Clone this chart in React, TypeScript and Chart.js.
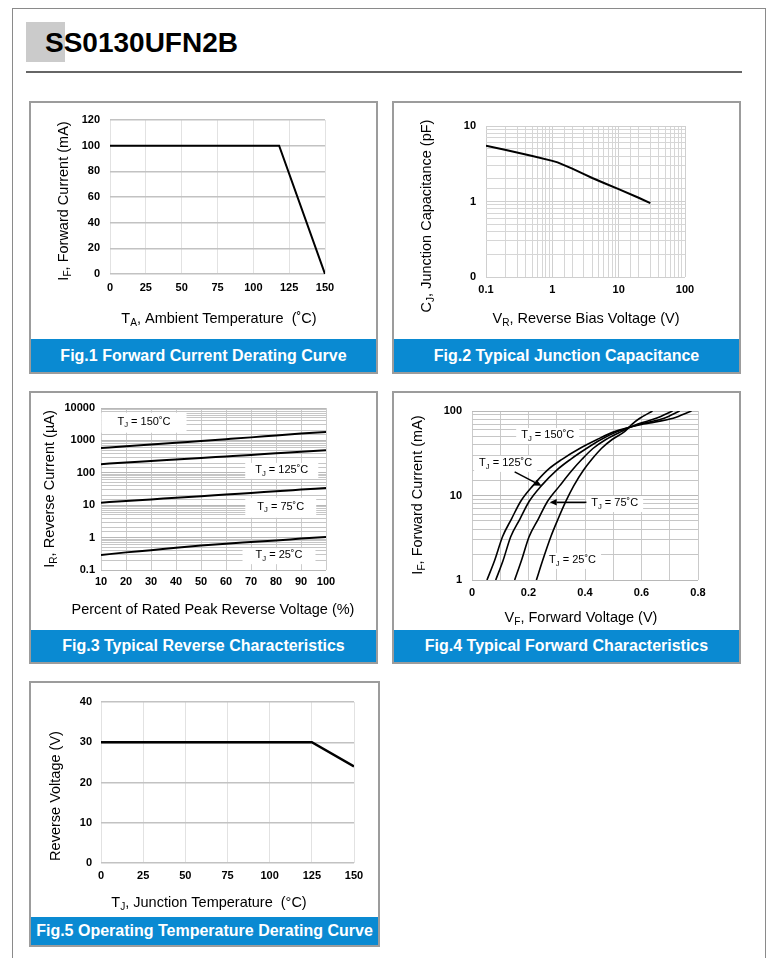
import React, { useEffect, useRef } from "react";
import { Chart, registerables } from "chart.js";

Chart.register(...registerables);

const FONT = '"Liberation Sans", Arial, Helvetica, sans-serif';

// ---------------- Fig.1 Forward Current Derating Curve ----------------
const fig1Temperature = [0, 118, 150];
const fig1Current = [100, 100, 0];
const fig1XTicks = [0, 25, 50, 75, 100, 125, 150];
const fig1YTicks = [0, 20, 40, 60, 80, 100, 120];

// ---------------- Fig.2 Typical Junction Capacitance ----------------
const fig2Voltage = [0.1, 0.2, 0.5, 1, 1.2, 2, 3, 4, 6, 10, 20, 30];
const fig2Capacitance = [5.5, 4.8, 4.0, 3.45, 3.3, 2.72, 2.3, 2.05, 1.76, 1.46, 1.12, 0.95];
const fig2XTickValues = [0.1, 1, 10, 100];
const fig2XTickLabels = ["0.1", "1", "10", "100"];
const fig2YTickValues = [0.1, 1, 10];
const fig2YTickLabels = ["0", "1", "10"];

// ---------------- Fig.3 Typical Reverse Characteristics ----------------
const fig3Percent = [10, 20, 30, 40, 50, 60, 70, 80, 90, 100];
const fig3Ir150 = [580, 660, 750, 850, 960, 1090, 1240, 1420, 1620, 1830];
const fig3Ir125 = [185, 207, 230, 257, 287, 320, 357, 400, 447, 495];
const fig3Ir75 = [12, 13.5, 15.1, 17, 19, 21.4, 24, 27, 30.3, 34];
const fig3Ir25 = [0.29, 0.35, 0.41, 0.49, 0.57, 0.65, 0.73, 0.82, 0.93, 1.05];
const fig3XTicks = [10, 20, 30, 40, 50, 60, 70, 80, 90, 100];
const fig3YTickValues = [0.1, 1, 10, 100, 1000, 10000];
const fig3YTickLabels = ["0.1", "1", "10", "100", "1000", "10000"];
const fig3NoteTemps = ["150", "125", "75", "25"];
const fig3NoteX = [27.2, 82.3, 81.9, 81.2];
const fig3NoteY = [3770, 123, 8.97, 0.287];

// ---------------- Fig.4 Typical Forward Characteristics ----------------
const fig4Current = [1, 1.7, 3.25, 5.3, 8.5, 13, 20, 27, 36, 46, 57, 70, 82, 100];
const fig4Vf150 = [0.053, 0.08, 0.108, 0.14, 0.172, 0.215, 0.267, 0.32, 0.381, 0.443, 0.505, 0.607, 0.712, 0.777];
const fig4Vf125 = [0.084, 0.11, 0.137, 0.17, 0.202, 0.245, 0.3, 0.35, 0.405, 0.457, 0.515, 0.597, 0.68, 0.735];
const fig4Vf75 = [0.151, 0.175, 0.202, 0.235, 0.267, 0.31, 0.355, 0.39, 0.428, 0.474, 0.528, 0.587, 0.652, 0.71];
const fig4Vf25 = [0.228, 0.25, 0.279, 0.305, 0.332, 0.36, 0.395, 0.425, 0.458, 0.496, 0.54, 0.567, 0.594, 0.639];
const fig4XGrid = [0, 0.1, 0.2, 0.3, 0.4, 0.5, 0.6, 0.7, 0.8];
const fig4XTickValues = [0, 0.2, 0.4, 0.6, 0.8];
const fig4XTickLabels = ["0", "0.2", "0.4", "0.6", "0.8"];
const fig4YTickValues = [1, 10, 100];
const fig4YTickLabels = ["1", "10", "100"];
const fig4NoteTemps = ["150", "125", "75", "25"];
const fig4NoteX = [0.268, 0.119, 0.505, 0.356];
const fig4NoteY = [52, 24.3, 8.15, 1.73];
const fig4ArrowFromX = [0.151, 0.405];
const fig4ArrowFromY = [19, 8.31];
const fig4ArrowToX = [0.246, 0.275];
const fig4ArrowToY = [13, 8.31];

// ---------------- Fig.5 Operating Temperature Derating Curve ----------------
const fig5Temperature = [0, 125, 150];
const fig5Voltage = [30, 30, 24];
const fig5XTicks = [0, 25, 50, 75, 100, 125, 150];
const fig5YTicks = [0, 10, 20, 30, 40];

// ---------------------------------------------------------------------------
type Part = { t: string; sub?: boolean };

function measureRich(ctx: CanvasRenderingContext2D, parts: Part[], size: number) {
  let w = 0;
  for (const p of parts) {
    ctx.font = `${p.sub ? size * 0.7 : size}px ${FONT}`;
    w += ctx.measureText(p.t).width;
  }
  return w;
}

function drawRich(ctx: CanvasRenderingContext2D, parts: Part[], size: number, cx: number, cy: number) {
  const w = measureRich(ctx, parts, size);
  let x = cx - w / 2;
  ctx.textAlign = "left";
  ctx.textBaseline = "middle";
  for (const p of parts) {
    ctx.font = `${p.sub ? size * 0.7 : size}px ${FONT}`;
    ctx.fillText(p.t, x, p.sub ? cy + size * 0.32 : cy);
    x += ctx.measureText(p.t).width;
  }
}

const tjParts = (temp: string): Part[] => [{ t: "T" }, { t: "J", sub: true }, { t: ` = ${temp}˚C` }];

type AxisSpec = {
  type: "linear" | "logarithmic";
  min: number;
  max: number;
  grid?: number[];
  labelValues: number[];
  labels: string[];
  minorColor: string;
  majorColor: string;
  lineWidth: number;
  pad: number;
};

type Note = { x: number; y: number; parts: Part[]; padX: number; padY: number };
type Arrow = { x1: number; y1: number; x2: number; y2: number };

type ChartSpec = {
  left: number;
  top: number;
  w: number;
  h: number;
  area: { left: number; top: number; right: number; bottom: number };
  x: AxisSpec;
  y: AxisSpec;
  series: { xs: number[]; ys: number[] }[];
  lineWidth: number;
  smooth: boolean;
  xTitle: Part[];
  xTitlePos: [number, number];
  yTitle: Part[];
  yTitlePos: [number, number];
  notes?: Note[];
  arrows?: Arrow[];
};

const near = (a: number, b: number) => Math.abs(a - b) <= 1e-6 * Math.max(Math.abs(a), 1e-9) + 1e-12;
const isPow10 = (v: number) => near(Math.pow(10, Math.round(Math.log10(v))), v);

function buildScale(spec: AxisSpec, size: number, isX: boolean) {
  return {
    type: spec.type,
    min: spec.min,
    max: spec.max,
    border: { display: false },
    grid: {
      drawTicks: false,
      lineWidth: spec.lineWidth,
      color: (c: any) => {
        const v = c.tick ? c.tick.value : 0;
        if (spec.type === "logarithmic") return isPow10(v) ? spec.majorColor : spec.minorColor;
        return spec.majorColor;
      },
    },
    ticks: {
      autoSkip: false,
      maxRotation: 0,
      minRotation: 0,
      padding: spec.pad,
      color: "#000",
      font: { family: FONT, size: 11, weight: "bold" },
      callback: (v: number) => {
        const i = spec.labelValues.findIndex((t) => near(t, Number(v)));
        return i >= 0 ? spec.labels[i] : "";
      },
    },
    afterBuildTicks: spec.grid
      ? (scale: any) => {
          scale.ticks = spec.grid!.map((v) => ({ value: v }));
        }
      : undefined,
    afterFit: (scale: any) => {
      if (isX) scale.height = size;
      else scale.width = size;
    },
  };
}

function makeConfig(spec: ChartSpec): any {
  const titles = {
    id: "richTitles",
    afterDraw(chart: any) {
      const ctx: CanvasRenderingContext2D = chart.ctx;
      ctx.save();
      ctx.fillStyle = "#000";
      drawRich(ctx, spec.xTitle, 14.5, spec.xTitlePos[0], spec.xTitlePos[1]);
      ctx.translate(spec.yTitlePos[0], spec.yTitlePos[1]);
      ctx.rotate(-Math.PI / 2);
      drawRich(ctx, spec.yTitle, 14.5, 0, 0);
      ctx.restore();
    },
  };
  const notes = {
    id: "notes",
    beforeDatasetsDraw(chart: any) {
      if (!spec.notes) return;
      const ctx: CanvasRenderingContext2D = chart.ctx;
      const xs = chart.scales.x;
      const ys = chart.scales.y;
      ctx.save();
      for (const n of spec.notes) {
        const px = xs.getPixelForValue(n.x);
        const py = ys.getPixelForValue(n.y);
        const w = measureRich(ctx, n.parts, 11);
        const bw = w + 2 * n.padX;
        const bh = 12 + 2 * n.padY;
        ctx.fillStyle = "#fff";
        ctx.fillRect(px - bw / 2, py - bh / 2 + 1, bw, bh);
        ctx.fillStyle = "#000";
        drawRich(ctx, n.parts, 11, px, py);
      }
      ctx.restore();
    },
    afterDatasetsDraw(chart: any) {
      if (!spec.arrows) return;
      const ctx: CanvasRenderingContext2D = chart.ctx;
      const xs = chart.scales.x;
      const ys = chart.scales.y;
      ctx.save();
      ctx.strokeStyle = "#000";
      ctx.fillStyle = "#000";
      ctx.lineWidth = 1.5;
      for (const a of spec.arrows) {
        const x1 = xs.getPixelForValue(a.x1);
        const y1 = ys.getPixelForValue(a.y1);
        const x2 = xs.getPixelForValue(a.x2);
        const y2 = ys.getPixelForValue(a.y2);
        const ang = Math.atan2(y2 - y1, x2 - x1);
        const hl = 7;
        const hw = 3.2;
        const bx = x2 - hl * Math.cos(ang);
        const by = y2 - hl * Math.sin(ang);
        ctx.beginPath();
        ctx.moveTo(x1, y1);
        ctx.lineTo(bx, by);
        ctx.stroke();
        ctx.beginPath();
        ctx.moveTo(x2, y2);
        ctx.lineTo(bx + hw * Math.sin(ang), by - hw * Math.cos(ang));
        ctx.lineTo(bx - hw * Math.sin(ang), by + hw * Math.cos(ang));
        ctx.closePath();
        ctx.fill();
      }
      ctx.restore();
    },
  };
  return {
    type: "line",
    data: {
      datasets: spec.series.map((s) => ({
        data: s.xs.map((x, i) => ({ x, y: s.ys[i] })),
        borderColor: "#000",
        borderWidth: spec.lineWidth,
        pointRadius: 0,
        fill: false,
        tension: spec.smooth ? 0.4 : 0,
        cubicInterpolationMode: spec.smooth ? "monotone" : "default",
      })),
    },
    options: {
      animation: false,
      responsive: false,
      events: [],
      layout: {
        padding: {
          left: 0,
          top: spec.area.top,
          right: spec.w - spec.area.right,
          bottom: 0,
        },
      },
      plugins: { legend: { display: false }, tooltip: { enabled: false }, title: { display: false } },
      scales: {
        x: buildScale(spec.x, spec.h - spec.area.bottom, true),
        y: buildScale(spec.y, spec.area.left, false),
      },
    },
    plugins: [titles, notes],
  };
}

function ChartCanvas({ spec }: { spec: ChartSpec }) {
  const ref = useRef<HTMLCanvasElement>(null);
  useEffect(() => {
    const chart = new Chart(ref.current as HTMLCanvasElement, makeConfig(spec));
    return () => chart.destroy();
  }, []);
  return (
    <canvas
      ref={ref}
      width={spec.w}
      height={spec.h}
      style={{ position: "absolute", left: spec.left, top: spec.top, width: spec.w, height: spec.h }}
    />
  );
}

function Panel({ left, top, width, height, bandTop, bandHeight, caption }: any) {
  return (
    <div
      style={{
        position: "absolute",
        left,
        top,
        width,
        height,
        boxSizing: "border-box",
        border: "2px solid #9c9c9c",
        background: "#fff",
      }}
    >
      <div
        style={{
          position: "absolute",
          left: 0,
          right: 0,
          top: bandTop,
          height: bandHeight,
          background: "#0a8ad2",
          color: "#fff",
          font: `bold 16px ${FONT}`,
          display: "flex",
          alignItems: "center",
          justifyContent: "center",
          whiteSpace: "nowrap",
        }}
      >
        {caption}
      </div>
    </div>
  );
}

const linGrid = (vals: number[], minor: string, major: string, lw: number, pad: number): AxisSpec => ({
  type: "linear",
  min: vals[0],
  max: vals[vals.length - 1],
  grid: vals,
  labelValues: vals,
  labels: vals.map(String),
  minorColor: minor,
  majorColor: major,
  lineWidth: lw,
  pad,
});

const fig1Spec: ChartSpec = {
  left: 31,
  top: 103,
  w: 345,
  h: 236,
  area: { left: 79, top: 17, right: 294, bottom: 171 },
  x: linGrid(fig1XTicks, "#e2e2e2", "#e2e2e2", 1, 7),
  y: linGrid(fig1YTicks, "#c2c2c2", "#c2c2c2", 1.5, 10),
  series: [{ xs: fig1Temperature, ys: fig1Current }],
  lineWidth: 2,
  smooth: false,
  xTitle: [{ t: "T" }, { t: "A", sub: true }, { t: ", Ambient Temperature  (˚C)" }],
  xTitlePos: [188, 216],
  yTitle: [{ t: "I" }, { t: "F", sub: true }, { t: ", Forward Current (mA)" }],
  yTitlePos: [33, 98],
};

const fig2Spec: ChartSpec = {
  left: 394,
  top: 103,
  w: 345,
  h: 236,
  area: { left: 92, top: 23, right: 291, bottom: 174 },
  x: {
    type: "logarithmic",
    min: 0.1,
    max: 100,
    labelValues: fig2XTickValues,
    labels: fig2XTickLabels,
    minorColor: "#d6d6d6",
    majorColor: "#cfcfcf",
    lineWidth: 1,
    pad: 6,
  },
  y: {
    type: "logarithmic",
    min: 0.1,
    max: 10,
    labelValues: fig2YTickValues,
    labels: fig2YTickLabels,
    minorColor: "#d6d6d6",
    majorColor: "#cfcfcf",
    lineWidth: 1,
    pad: 10,
  },
  series: [{ xs: fig2Voltage, ys: fig2Capacitance }],
  lineWidth: 2,
  smooth: false,
  xTitle: [{ t: "V" }, { t: "R", sub: true }, { t: ", Reverse Bias Voltage (V)" }],
  xTitlePos: [192, 216],
  yTitle: [{ t: "C" }, { t: "J", sub: true }, { t: ", Junction Capacitance (pF)" }],
  yTitlePos: [33, 113],
};

const fig3PadX = [16, 10, 12, 13];
const fig3PadY = [4, 2, 4, 2];
const fig3Spec: ChartSpec = {
  left: 31,
  top: 393,
  w: 345,
  h: 237,
  area: { left: 70, top: 15, right: 295, bottom: 177 },
  x: linGrid(fig3XTicks, "#cccccc", "#cccccc", 1, 5),
  y: {
    type: "logarithmic",
    min: 0.1,
    max: 10000,
    labelValues: fig3YTickValues,
    labels: fig3YTickLabels,
    minorColor: "#c6c6c6",
    majorColor: "#b8b8b8",
    lineWidth: 1,
    pad: 6,
  },
  series: [
    { xs: fig3Percent, ys: fig3Ir150 },
    { xs: fig3Percent, ys: fig3Ir125 },
    { xs: fig3Percent, ys: fig3Ir75 },
    { xs: fig3Percent, ys: fig3Ir25 },
  ],
  lineWidth: 2,
  smooth: true,
  xTitle: [{ t: "Percent of Rated Peak Reverse Voltage (%)" }],
  xTitlePos: [182, 217],
  yTitle: [{ t: "I" }, { t: "R", sub: true }, { t: ", Reverse Current (µA)" }],
  yTitlePos: [19, 96],
  notes: fig3NoteTemps.map((t, i) => ({
    x: fig3NoteX[i],
    y: fig3NoteY[i],
    parts: tjParts(t),
    padX: fig3PadX[i],
    padY: fig3PadY[i],
  })),
};

const fig4Spec: ChartSpec = {
  left: 394,
  top: 393,
  w: 345,
  h: 237,
  area: { left: 78, top: 18, right: 304, bottom: 187 },
  x: {
    type: "linear",
    min: 0,
    max: 0.8,
    grid: fig4XGrid,
    labelValues: fig4XTickValues,
    labels: fig4XTickLabels,
    minorColor: "#cacaca",
    majorColor: "#cacaca",
    lineWidth: 1,
    pad: 6,
  },
  y: {
    type: "logarithmic",
    min: 1,
    max: 100,
    labelValues: fig4YTickValues,
    labels: fig4YTickLabels,
    minorColor: "#c6c6c6",
    majorColor: "#b8b8b8",
    lineWidth: 1,
    pad: 10,
  },
  series: [
    { xs: fig4Vf150, ys: fig4Current },
    { xs: fig4Vf125, ys: fig4Current },
    { xs: fig4Vf75, ys: fig4Current },
    { xs: fig4Vf25, ys: fig4Current },
  ],
  lineWidth: 1.6,
  smooth: true,
  xTitle: [{ t: "V" }, { t: "F", sub: true }, { t: ", Forward Voltage (V)" }],
  xTitlePos: [187, 225],
  yTitle: [{ t: "I" }, { t: "F", sub: true }, { t: ", Forward Current (mA)" }],
  yTitlePos: [24, 102],
  notes: fig4NoteTemps.map((t, i) => ({ x: fig4NoteX[i], y: fig4NoteY[i], parts: tjParts(t), padX: 5, padY: 2 })),
  arrows: fig4ArrowFromX.map((x1, i) => ({ x1, y1: fig4ArrowFromY[i], x2: fig4ArrowToX[i], y2: fig4ArrowToY[i] })),
};

const fig5Spec: ChartSpec = {
  left: 31,
  top: 683,
  w: 347,
  h: 234,
  area: { left: 70, top: 19, right: 323, bottom: 180 },
  x: linGrid(fig5XTicks, "#e2e2e2", "#e2e2e2", 1, 6),
  y: linGrid(fig5YTicks, "#c2c2c2", "#c2c2c2", 1.5, 9),
  series: [{ xs: fig5Temperature, ys: fig5Voltage }],
  lineWidth: 2.5,
  smooth: false,
  xTitle: [{ t: "T" }, { t: "J", sub: true }, { t: ", Junction Temperature  (°C)" }],
  xTitlePos: [178, 220],
  yTitle: [{ t: "Reverse Voltage (V)" }],
  yTitlePos: [25, 113],
};

export default function App() {
  useEffect(() => {
    document.body.style.margin = "0";
    document.body.style.background = "#fff";
  }, []);
  return (
    <div style={{ position: "relative", width: 775, height: 958, overflow: "hidden", background: "#fff" }}>
      <div
        style={{
          position: "absolute",
          left: 12,
          top: 8,
          width: 754,
          height: 1000,
          border: "1px solid #8a8a8a",
          boxSizing: "border-box",
        }}
      />
      <div style={{ position: "absolute", left: 26, top: 22, width: 39, height: 40, background: "#cbcbcb" }} />
      <div
        style={{
          position: "absolute",
          left: 45,
          top: 29,
          font: `bold 28px ${FONT}`,
          lineHeight: "28px",
          color: "#000",
          whiteSpace: "nowrap",
        }}
      >
        SS0130UFN2B
      </div>
      <div style={{ position: "absolute", left: 26, top: 71, width: 716, height: 2, background: "#666" }} />

      <Panel left={29} top={101} width={349} height={273} bandTop={236} bandHeight={33} caption="Fig.1 Forward Current Derating Curve" />
      <Panel left={392} top={101} width={349} height={273} bandTop={236} bandHeight={33} caption="Fig.2 Typical Junction Capacitance" />
      <Panel left={29} top={391} width={349} height={273} bandTop={237} bandHeight={32} caption="Fig.3 Typical Reverse Characteristics" />
      <Panel left={392} top={391} width={349} height={273} bandTop={237} bandHeight={32} caption="Fig.4 Typical Forward Characteristics" />
      <Panel left={29} top={681} width={351} height={266} bandTop={234} bandHeight={28} caption="Fig.5 Operating Temperature Derating Curve" />

      <ChartCanvas spec={fig1Spec} />
      <ChartCanvas spec={fig2Spec} />
      <ChartCanvas spec={fig3Spec} />
      <ChartCanvas spec={fig4Spec} />
      <ChartCanvas spec={fig5Spec} />
    </div>
  );
}
